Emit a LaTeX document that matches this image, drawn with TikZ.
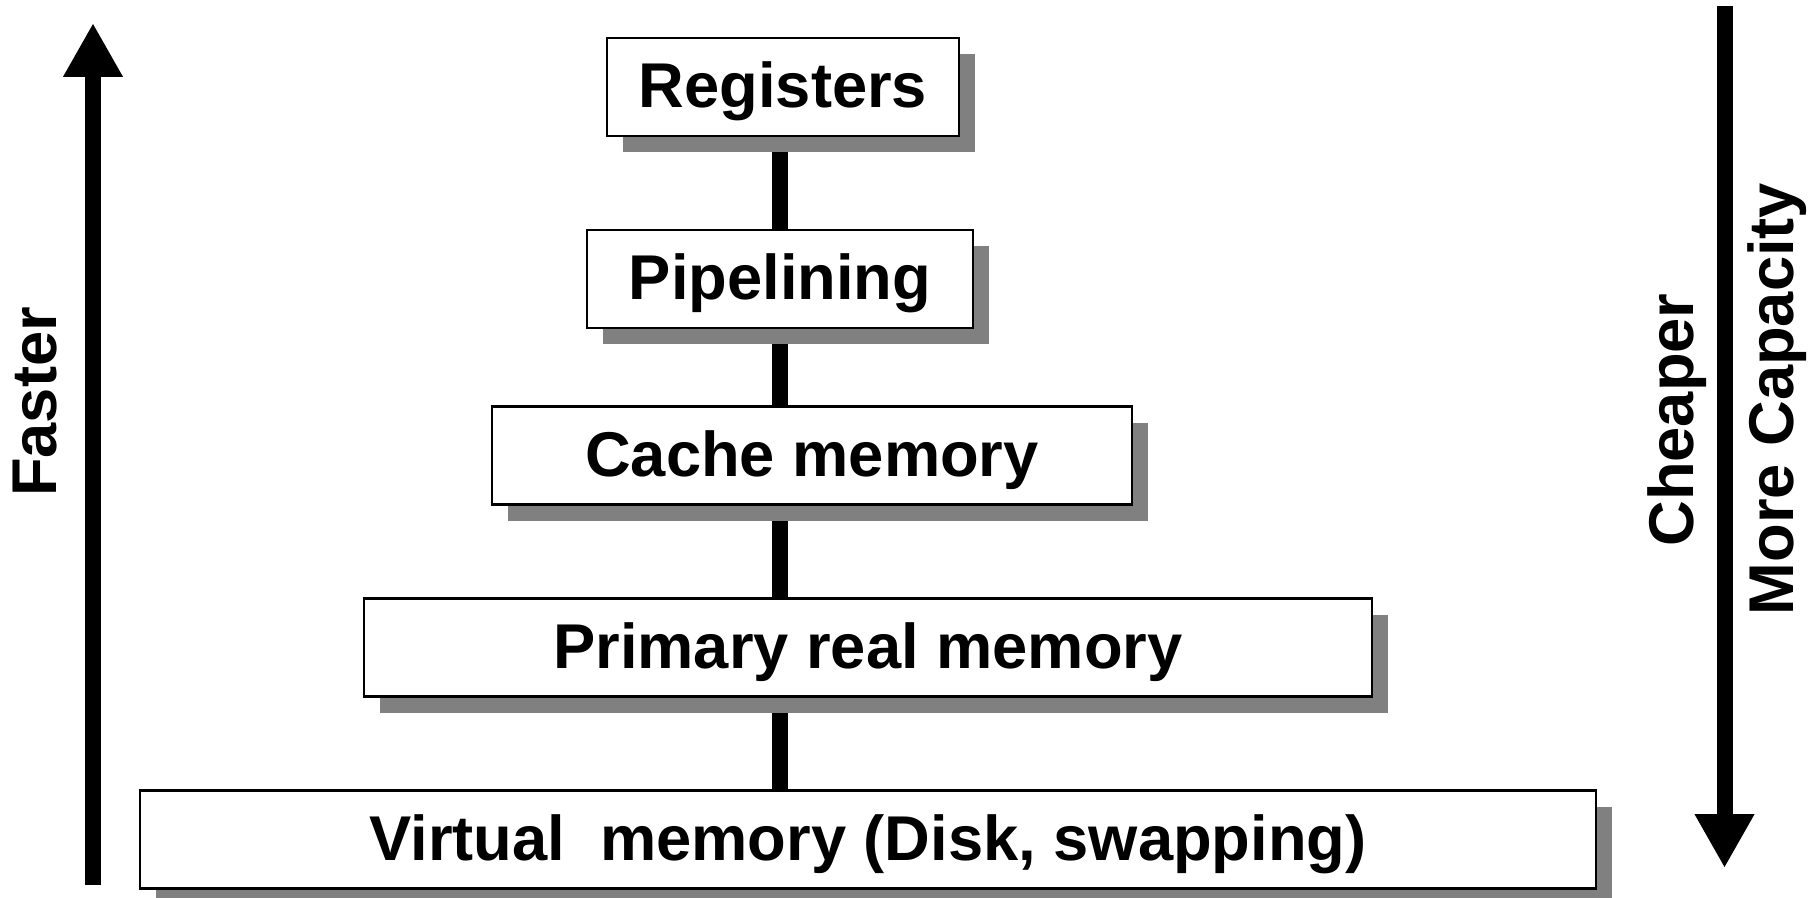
\documentclass[tikz,border=0pt]{standalone}
\usepackage{fontspec}
\setmainfont{Liberation Sans}
\usetikzlibrary{arrows.meta,shadows,backgrounds}

\tikzset{
  membox/.style = {draw, line width=0.8pt, fill=white, minimum height=0.98cm, inner sep=0pt,
    text height=0.45cm, text depth=0.03cm,
    font=\fontsize{18}{22}\selectfont\bfseries,
    drop shadow={shadow xshift=0.16cm, shadow yshift=-0.16cm, fill=black!50, opacity=1}},
  link/.style = {line width=0.16cm},
  bigarrow/.style = {line width=0.16cm, -{Triangle[length=0.54cm, width=0.56cm]}},
  sidetext/.style = {rotate=90, anchor=base, inner sep=0pt, font=\fontsize{18}{22}\selectfont\bfseries}
}

\begin{document}
\begin{tikzpicture}
	\useasboundingbox (0,0) rectangle (18.19,-8.98);
	% the levels
	\node[membox, minimum width=3.52cm] (reg) at (7.83,-0.87) {Registers};
	\node[membox, minimum width=3.86cm] (pipe) at (7.80,-2.79) {Pipelining};
	\node[membox, minimum width=6.40cm] (cache) at (8.12,-4.555) {Cache memory};
	\node[membox, minimum width=10.08cm] (prim) at (8.68,-6.475) {Primary real memory};
	\node[membox, minimum width=14.56cm] (virt) at (8.68,-8.395) {Virtual\ \ memory (Disk, swapping)};
	\begin{scope}[on background layer]
	\draw[link] (reg.south -| pipe) -- (pipe.north);
	\draw[link] (pipe.south) -- (pipe.south |- cache.north);
	\draw[link] (pipe.south |- cache.south) -- (pipe.south |- prim.north);
	\draw[link] (pipe.south |- prim.south) -- (pipe.south |- virt.north);
	\end{scope}
	% side arrows
	\draw[bigarrow] (0.93,-8.85) -- (0.93,-0.23);
	\draw[bigarrow] (17.245,-0.06) -- (17.245,-8.68);
	\node[sidetext] (fast) at (0.56,-4.02) {Faster};
	\node[sidetext] (cheap) at (16.93,-4.20) {Cheaper};
	\node[sidetext] (capa) at (17.93,-3.99) {More Capacity};
\end{tikzpicture}
\end{document}
